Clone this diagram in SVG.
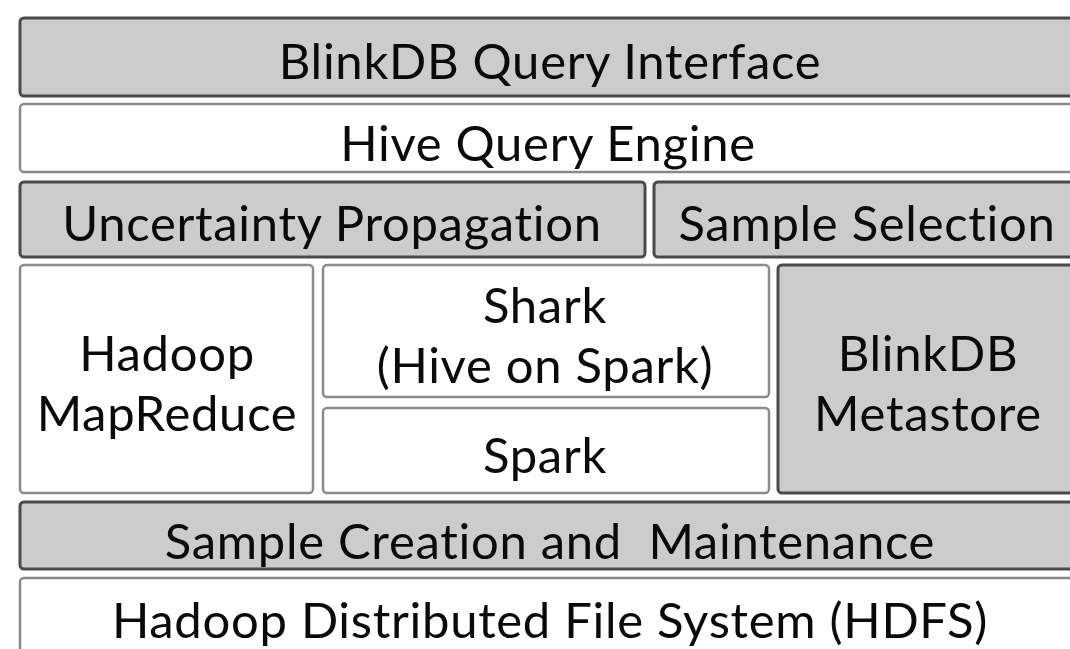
<svg xmlns="http://www.w3.org/2000/svg" width="1070" height="649" viewBox="0 0 1070 649">
<style>
.g{fill:#cccccc;stroke:#4a4a4a;stroke-width:3}
.w{fill:#ffffff;stroke:#8a8a8a;stroke-width:2.5}
text{font-family:Lato,"Open Sans",sans-serif;font-size:49px;letter-spacing:0.7px;fill:#0a0a0a;text-anchor:middle;font-variant-ligatures:none}
</style>
<rect width="1070" height="649" fill="#fff"/>
<g id="query-interface"><rect class="g" x="20" y="18" width="1070" height="78" rx="4"/><text x="550" y="79">BlinkDB Query Interface</text></g>
<g id="hive-engine"><rect class="w" x="20" y="104" width="1070" height="68" rx="4"/><text x="548" y="161">Hive Query Engine</text></g>
<g id="uncertainty"><rect class="g" x="20" y="182" width="625" height="75" rx="4"/><text x="332" y="241">Uncertainty Propagation</text></g>
<g id="sample-selection"><rect class="g" x="654" y="182" width="430" height="75" rx="4"/><text x="867" y="241">Sample Selection</text></g>
<g id="hadoop-mr"><rect class="w" x="20" y="265" width="293" height="228" rx="4"/><text x="167" y="371">Hadoop</text><text x="167" y="431">MapReduce</text></g>
<g id="shark"><rect class="w" x="323" y="265" width="446" height="132" rx="4"/><text x="545" y="323">Shark</text><text x="545" y="383">(Hive on Spark)</text></g>
<g id="spark"><rect class="w" x="323" y="408" width="446" height="85" rx="4"/><text x="545" y="473">Spark</text></g>
<g id="metastore"><rect class="g" x="778" y="265" width="310" height="228" rx="4"/><text x="928" y="371">BlinkDB</text><text x="928" y="431">Metastore</text></g>
<g id="sample-creation"><rect class="g" x="20" y="502" width="1070" height="67" rx="4"/><text x="550" y="559" xml:space="preserve">Sample Creation and  Maintenance</text></g>
<g id="hdfs"><rect class="w" x="20" y="578" width="1070" height="90" rx="4"/><text x="550" y="638">Hadoop Distributed File System (HDFS)</text></g>
<g id="connectors"></g>
</svg>
